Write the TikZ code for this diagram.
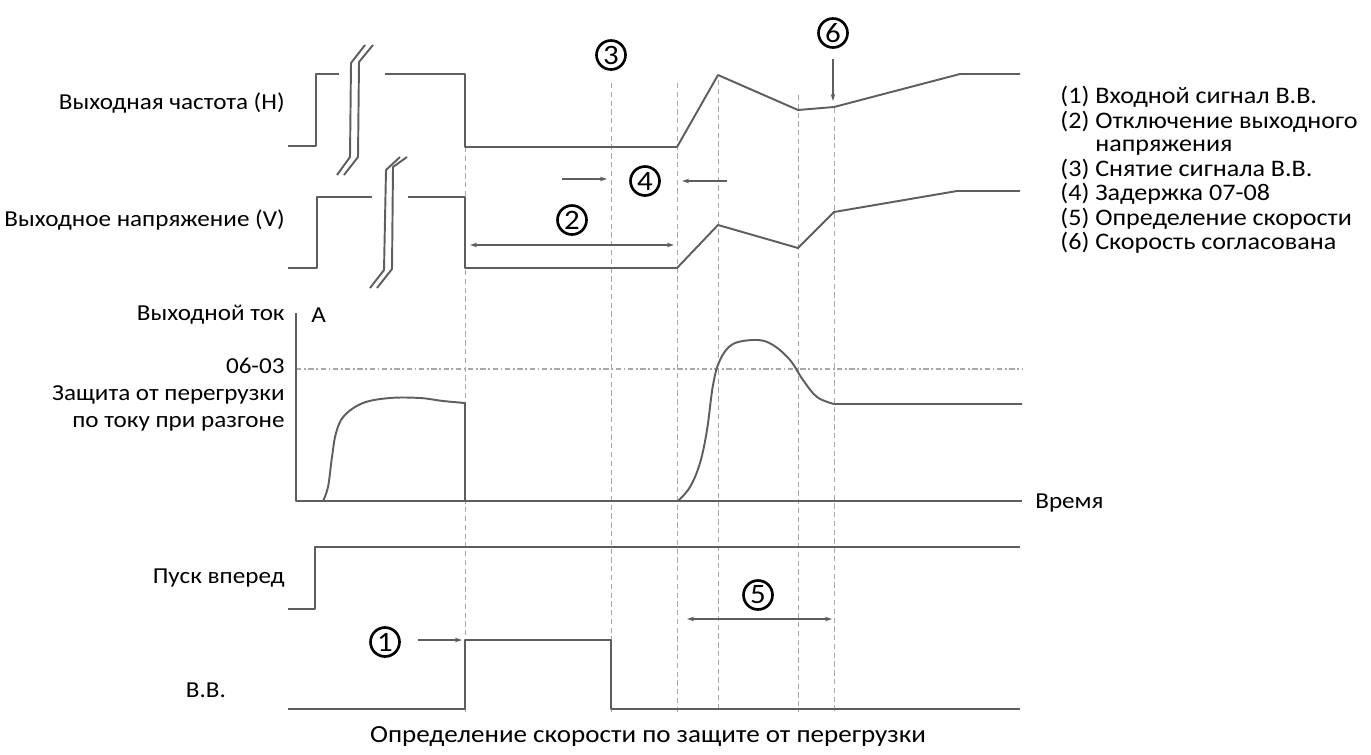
\documentclass[tikz,border=0pt]{standalone}
\usepackage{fontspec}
\setmainfont{Carlito}[FakeStretch=1.1]
\usetikzlibrary{arrows.meta}

\definecolor{sigcol}{HTML}{5E5E5E}
\definecolor{guidecol}{HTML}{A8A8A8}

\tikzset{
  sig/.style={draw=sigcol, line width=1.1pt, line join=round},
  guide/.style={draw=guidecol, line width=0.45pt, dash pattern=on 3pt off 2pt},
  limit/.style={draw=guidecol, line width=0.8pt, dash pattern=on 3pt off 1.5pt on 1pt off 1.5pt},
  dim/.style={draw=sigcol, line width=0.7pt},
  numc/.style={circle, draw=black, line width=1.5pt, minimum size=0.58cm, inner sep=0pt,
    font=\fontsize{16}{16}\selectfont},
  lbl/.style={anchor=east, inner sep=0pt}
}

\begin{document}
\begin{tikzpicture}[x=0.02cm, y=-0.02cm, >={Stealth[length=4pt,width=2.6pt]},
  font=\fontsize{13}{13.5}\selectfont]
  \useasboundingbox (0,0) rectangle (1371,754);

  % dashed time marks
  \foreach \t/\ya in {465/147, 611/83, 677/83, 718/80, 798/95, 834/108}
    \draw[guide] (\t,\ya) -- (\t,712);
  \draw[limit] (296,369) -- (1022,369);

  % output frequency
  \draw[sig] (288,146) -- (316,146) -- (316,74) -- (339,74);
  \draw[sig] (385,74) -- (465,74) -- (465,147) -- (677,147) -- (718,75)
    -- (798,110) -- (834,107) -- (960,74) -- (1020,74);
  \draw[sig] (337,175) -- (350,157) -- (351,63) -- (365,45);
  \draw[sig] (344,175) -- (358,157) -- (359,62) -- (373,45);

  % output voltage
  \draw[sig] (288,268) -- (317,268) -- (317,197) -- (372,197);
  \draw[sig] (408,197) -- (465,197) -- (465,268) -- (677,268) -- (718,225)
    -- (798,248) -- (834,212) -- (957,191) -- (1020,191);
  \draw[sig] (370,288) -- (384,270) -- (386,170) -- (400,157);
  \draw[sig] (377,288) -- (392,269) -- (393,167) -- (407,157);

  % output current
  \draw[sig] (296,313) -- (296,501) -- (1022,501);
  \draw[sig] plot[smooth, tension=0.6] coordinates {(323,501) (328,487) (332,457)
    (336,433) (344,416) (363,403) (390,398) (420,398) (443,401) (465,403)}
    -- (465,501);
  \draw[sig] plot[smooth, tension=0.6] coordinates {(678,501) (690,487) (700,463)
    (707,430) (713,385) (720,360) (733,344) (757,340) (773,345) (790,360)
    (803,380) (817,397) (834,404)} -- (1022,404);

  % forward run and B.B.
  \draw[sig] (288,609) -- (315,609) -- (315,547) -- (1020,547);
  \draw[sig] (288,709) -- (465,709) -- (465,640) -- (611,640) -- (611,709) -- (1020,709);

  % markers
  \node[numc] (c1) at (385,642) {1};
  \node[numc] (c2) at (572,220) {2};
  \node[numc] (c3) at (611,55) {3};
  \node[numc] (c4) at (645,181) {4};
  \node[numc] (c5) at (758,595) {5};
  \node[numc] (c6) at (833,33) {6};
  \coordinate (bbrise) at (462,640);
  \coordinate (match) at (833,101);
  \draw[dim,->] (c1) ++(33,-2) -- (bbrise);
  \draw[dim,->] (c6) ++(0,26) -- (match);
  \draw[dim,<->] (470,245) -- (674,245);
  \draw[dim,->] (562,179) -- (607,179);
  \draw[dim,->] (727,181) -- (682,181);
  \draw[dim,<->] (687,619) -- (832,619);

  % labels
  \node[lbl] (lblfreq) at (285,103) {Выходная частота (H)};
  \node[lbl] (lblvolt) at (285,220) {Выходное напряжение (V)};
  \node[lbl] (lblcur) at (285,315) {Выходной ток};
  \node[anchor=west, inner sep=0pt] (lblamp) at (311,315) {A};
  \node[lbl, align=right, font=\fontsize{13}{15.4}\selectfont] (lbllim) at (285,395)
    {06-03\\Защита от перегрузки\\по току при разгоне};
  \node[anchor=west, inner sep=0pt] (lbltime) at (1035,503) {Время};
  \node[lbl] (lblrun) at (285,578) {Пуск вперед};
  \node[inner sep=0pt] (lblbb) at (206,690) {В.В.};
  \node[inner sep=0pt, font=\fontsize{14}{14}\selectfont] (caption) at (648,737)
    {Определение скорости по защите от перегрузки};
  \node[anchor=north west, inner sep=0pt, font=\fontsize{13.5}{13.5}\selectfont]
    (legend) at (1060,86) {%
    \begin{tabular}{@{}l@{\ }l@{}}
      (1) & Входной сигнал В.В.\\
      (2) & Отключение выходного\\
          & напряжения\\
      (3) & Снятие сигнала В.В.\\
      (4) & Задержка 07-08\\
      (5) & Определение скорости\\
      (6) & Скорость согласована
    \end{tabular}};
\end{tikzpicture}
\end{document}
